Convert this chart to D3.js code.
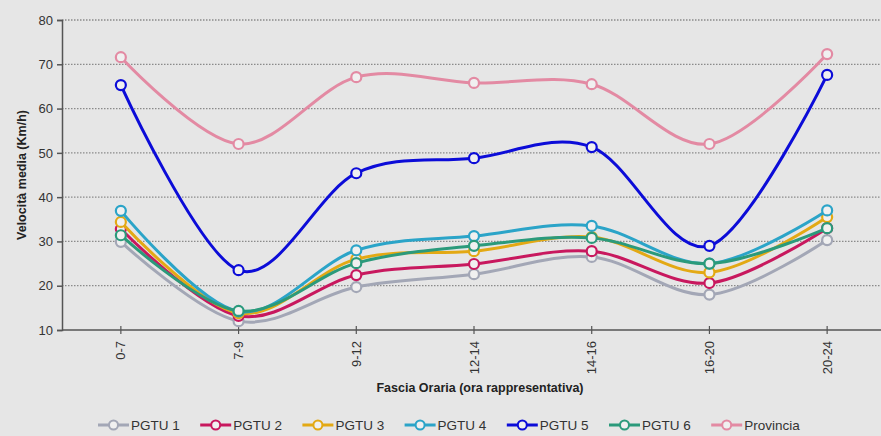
<!DOCTYPE html>
<html>
<head>
<meta charset="utf-8">
<script src="https://d3js.org/d3.v7.min.js"></script>
<style>
  body { margin: 0; background: #e6e6e6; }
  svg { display: block; font-family: "Liberation Sans", Arial, sans-serif; }
</style>
</head>
<body>
<div id="chart"></div>
<script>
// dati
const fasce = ["0-7", "7-9", "9-12", "12-14", "14-16", "16-20", "20-24"];
const yTicks = [10, 20, 30, 40, 50, 60, 70, 80];
const pgtu1 = [29.9, 12.0, 19.7, 22.6, 26.5, 18.0, 30.3];
const pgtu2 = [32.8, 13.2, 22.4, 24.9, 27.8, 20.6, 33.0];
const pgtu3 = [34.4, 13.8, 26.0, 27.8, 31.0, 23.0, 35.5];
const pgtu4 = [36.9, 14.2, 28.0, 31.2, 33.5, 25.0, 37.0];
const pgtu5 = [65.3, 23.5, 45.4, 48.8, 51.3, 29.0, 67.6];
const pgtu6 = [31.4, 14.3, 25.1, 29.0, 30.8, 25.0, 33.0];
const provincia = [71.6, 52.0, 67.1, 65.8, 65.5, 52.0, 72.3];

const serie = [
  {nome: "PGTU 1", valori: pgtu1, colore: "#a3a7b6"},
  {nome: "PGTU 2", valori: pgtu2, colore: "#c8185e"},
  {nome: "PGTU 3", valori: pgtu3, colore: "#e3a914"},
  {nome: "PGTU 4", valori: pgtu4, colore: "#2ba4c8"},
  {nome: "PGTU 5", valori: pgtu5, colore: "#0c0cd8"},
  {nome: "PGTU 6", valori: pgtu6, colore: "#2b9a7b"},
  {nome: "Provincia", valori: provincia, colore: "#e38aa3"}
];

const W = 881, H = 436;
const svg = d3.select("#chart").append("svg")
  .attr("width", W).attr("height", H);

svg.append("rect").attr("width", W).attr("height", H).attr("fill", "#e6e6e6");

const x = d3.scaleBand().domain(fasce).range([62, 886]);
const y = d3.scaleLinear().domain([10, 80]).range([330, 20]);
const cx = d => x(d) + x.bandwidth() / 2;

// griglia
svg.append("g").selectAll("line")
  .data(yTicks.filter(t => t > 10))
  .join("line")
  .attr("x1", 62).attr("x2", W)
  .attr("y1", d => y(d)).attr("y2", d => y(d))
  .attr("stroke", "#8a8a8a").attr("stroke-width", 1.3)
  .attr("stroke-dasharray", "1.5,1.5");

// asse y
const yAxis = svg.append("g")
  .attr("transform", "translate(62,0)")
  .call(d3.axisLeft(y).tickValues(yTicks).tickSize(5).tickPadding(4));
yAxis.select(".domain").attr("stroke", "#555").attr("stroke-width", 1.5);
yAxis.selectAll(".tick line").attr("stroke", "#555").attr("stroke-width", 1.5);
yAxis.selectAll("text").attr("font-size", 13).attr("fill", "#333")
  .attr("font-family", "Liberation Sans, Arial, sans-serif");

// asse x
svg.append("line")
  .attr("x1", 62).attr("x2", W).attr("y1", 330).attr("y2", 330)
  .attr("stroke", "#555").attr("stroke-width", 1.5);
const xg = svg.append("g");
xg.selectAll("line").data(fasce).join("line")
  .attr("x1", d => cx(d)).attr("x2", d => cx(d))
  .attr("y1", 326).attr("y2", 334)
  .attr("stroke", "#555").attr("stroke-width", 1.2);
xg.selectAll("text").data(fasce).join("text")
  .attr("transform", d => "translate(" + (cx(d) + 4.5) + ",341) rotate(-90)")
  .attr("text-anchor", "end")
  .attr("font-size", 13).attr("fill", "#333")
  .text(d => d);

// titoli assi
svg.append("text")
  .attr("transform", "translate(26,175) rotate(-90)")
  .attr("text-anchor", "middle")
  .attr("font-size", 12.5).attr("font-weight", "bold").attr("fill", "#222")
  .text("Velocità media (Km/h)");
svg.append("text")
  .attr("x", 480).attr("y", 392)
  .attr("text-anchor", "middle")
  .attr("font-size", 12.5).attr("font-weight", "bold").attr("fill", "#222")
  .text("Fascia Oraria (ora rappresentativa)");

// linee
const linea = d3.line()
  .x((d, i) => cx(fasce[i]))
  .y(d => y(d))
  .curve(d3.curveCardinal.tension(0));

serie.forEach(s => {
  const g = svg.append("g");
  g.append("path")
    .attr("d", linea(s.valori))
    .attr("fill", "none")
    .attr("stroke", s.colore)
    .attr("stroke-width", 3);
  g.selectAll("circle").data(s.valori).join("circle")
    .attr("cx", (d, i) => cx(fasce[i]))
    .attr("cy", d => y(d))
    .attr("r", 5)
    .attr("fill", "#f0f0f0")
    .attr("stroke", s.colore)
    .attr("stroke-width", 2.2);
});

// legenda
const leg = svg.append("g").selectAll("g").data(serie).join("g")
  .attr("transform", (d, i) => "translate(" + (98 + i * 102.2) + ",425)");
leg.append("line")
  .attr("x1", 0).attr("x2", 31).attr("y1", 0).attr("y2", 0)
  .attr("stroke", d => d.colore).attr("stroke-width", 3);
leg.append("circle")
  .attr("cx", 15.5).attr("cy", 0).attr("r", 4.5)
  .attr("fill", "#f0f0f0")
  .attr("stroke", d => d.colore).attr("stroke-width", 2);
leg.append("text")
  .attr("x", 33).attr("y", 5)
  .attr("font-size", 13.5).attr("fill", "#333")
  .text(d => d.nome);
</script>
</body>
</html>
